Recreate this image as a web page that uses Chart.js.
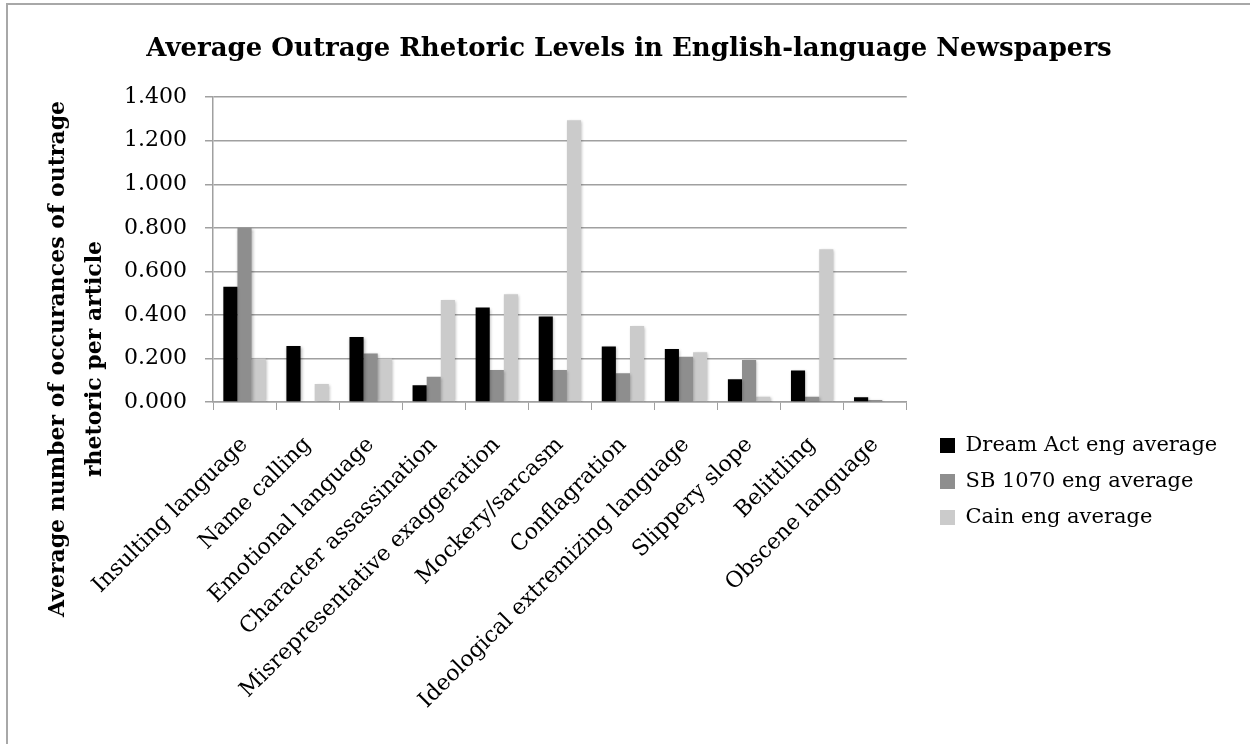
<!DOCTYPE html>
<html>
<head>
<meta charset="utf-8">
<title>Average Outrage Rhetoric Levels</title>
<script src="https://cdn.jsdelivr.net/npm/chart.js@4.4.1/dist/chart.umd.min.js"></script>
<style>
  html, body { margin: 0; padding: 0; background: #fff; }
  #wrap { position: relative; width: 1250px; height: 744px; overflow: hidden; }
  #frame {
    position: absolute; left: 6px; top: 3px; width: 1400px; height: 900px;
    border-top: 2px solid #a8a8a8; border-left: 2px solid #a8a8a8;
  }
  canvas { position: absolute; left: 0; top: 0; }
</style>
</head>
<body>
<div id="wrap">
  <div id="frame"></div>
  <canvas id="barChart" width="1250" height="744"></canvas>
</div>
<script>
const categories = [
  "Insulting language", "Name calling", "Emotional language",
  "Character assassination", "Misrepresentative exaggeration",
  "Mockery/sarcasm", "Conflagration", "Ideological extremizing language",
  "Slippery slope", "Belittling", "Obscene language"
];
const seriesNames = ["Dream Act eng average", "SB 1070 eng average", "Cain eng average"];
const dreamAct = [0.529, 0.257, 0.298, 0.077, 0.434, 0.393, 0.255, 0.243, 0.104, 0.145, 0.022];
const sb1070   = [0.800, 0.000, 0.223, 0.116, 0.147, 0.147, 0.132, 0.208, 0.193, 0.024, 0.009];
const cain     = [0.200, 0.083, 0.200, 0.468, 0.495, 1.294, 0.349, 0.229, 0.024, 0.702, 0.000];
const yTicks = [0, 0.2, 0.4, 0.6, 0.8, 1.0, 1.2, 1.4];
const yTitle = ["Average number of occurances of outrage", "rhetoric per article"];

const serif = "'DejaVu Serif', 'Liberation Serif', serif";
const gridGray = "#a0a0a0";

// vertical axis title, centred on the whole figure rather than the plot
const yTitlePlugin = {
  id: "yTitle",
  afterDraw(chart) {
    const ctx = chart.ctx;
    ctx.save();
    ctx.font = "bold 22px " + serif;
    ctx.fillStyle = "#000";
    ctx.textAlign = "center";
    ctx.textBaseline = "middle";
    [58, 95].forEach((x, i) => {
      ctx.save();
      ctx.translate(x, 359);
      ctx.rotate(-Math.PI / 2);
      ctx.fillText(yTitle[i], 0, 0);
      ctx.restore();
    });
    ctx.restore();
  }
};

// legend sits below the axis line; title centred on the full canvas
const boxPlace = {
  id: "boxPlace",
  afterLayout(chart) {
    const lg = chart.legend;
    const pad = lg.options.labels.padding;
    const dx = 940 - (lg.left + pad);
    const dy = 435 - (lg.top + pad);
    lg.left += dx; lg.right += dx;
    lg.top += dy; lg.bottom += dy;

    const tb = chart.titleBlock;
    const shift = chart.width / 2 + 4 - (tb.left + tb.right) / 2;
    tb.left += shift; tb.right += shift;
  }
};

// soft drop shadow under the bars
const barShadow = {
  id: "barShadow",
  beforeDatasetsDraw(chart) {
    const ctx = chart.ctx;
    ctx.save();
    ctx.shadowColor = "rgba(0,0,0,0.3)";
    ctx.shadowBlur = 3;
    ctx.shadowOffsetX = 1;
    ctx.shadowOffsetY = 1;
  },
  afterDatasetsDraw(chart) {
    chart.ctx.restore();
  }
};

const ctx = document.getElementById("barChart").getContext("2d");
new Chart(ctx, {
  type: "bar",
  data: {
    labels: categories,
    datasets: [
      { label: seriesNames[0], data: dreamAct, backgroundColor: "#000000" },
      { label: seriesNames[1], data: sb1070, backgroundColor: "#8e8e8e" },
      { label: seriesNames[2], data: cain, backgroundColor: "#cbcbcb" }
    ]
  },
  options: {
    responsive: false,
    animation: false,
    layout: { padding: { left: 0, right: 41, top: 0, bottom: 0 } },
    datasets: { bar: { categoryPercentage: 0.672, barPercentage: 1.0 } },
    plugins: {
      title: {
        display: true,
        text: "Average Outrage Rhetoric Levels in English-language Newspapers",
        color: "#000",
        font: { family: serif, size: 26, weight: "bold" },
        padding: { top: 34, bottom: 32 }
      },
      legend: {
        position: "right",
        align: "start",
        labels: {
          color: "#000",
          font: { family: serif, size: 21 },
          boxWidth: 15,
          boxHeight: 15,
          padding: 15
        }
      },
      tooltip: { enabled: false }
    },
    scales: {
      x: {
        grid: { display: true, drawOnChartArea: false, drawTicks: true, tickLength: 8, color: gridGray },
        border: { display: true, color: gridGray, width: 1.5 },
        ticks: {
          color: "#000",
          font: { family: serif, size: 22 },
          maxRotation: 45,
          minRotation: 45,
          autoSkip: false,
          padding: 22
        },
        afterFit(scale) { scale.height = 342; }
      },
      y: {
        min: 0,
        max: 1.4,
        afterBuildTicks(scale) { scale.ticks = yTicks.map(v => ({ value: v })); },
        grid: { color: gridGray, lineWidth: 1.5, tickLength: 8 },
        border: { display: true, color: gridGray, width: 1.5 },
        ticks: {
          color: "#000",
          font: { family: serif, size: 22 },
          padding: 18,
          callback: v => Number(v).toFixed(3)
        },
        afterFit(scale) { scale.width = 213; }
      }
    }
  },
  plugins: [yTitlePlugin, boxPlace, barShadow]
});
</script>
</body>
</html>
